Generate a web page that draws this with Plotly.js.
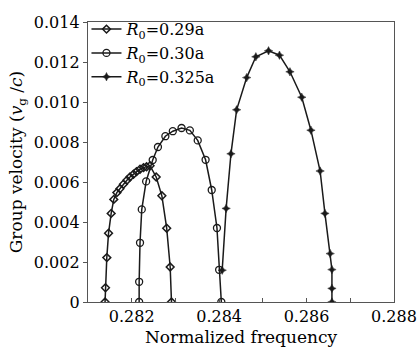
<!DOCTYPE html>
<html>
<head>
<meta charset="utf-8">
<script src="https://cdn.plot.ly/plotly-3.0.1.min.js"></script>
<style>html,body{margin:0;padding:0;background:#fff;}#chart{width:419px;height:347px;}</style>
</head>
<body>
<div id="chart"></div>
<script>
// Series names
const seriesNames = ['<i>R</i><sub>0</sub>=0.29a', '<i>R</i><sub>0</sub>=0.30a', '<i>R</i><sub>0</sub>=0.325a'];

// R0 = 0.29a
const x029 = [0.28139, 0.28140, 0.28143, 0.28147, 0.28153, 0.28159, 0.28166, 0.28173, 0.28181, 0.28189, 0.28196, 0.28204, 0.28211, 0.28219, 0.28227, 0.28234, 0.28242, 0.28256, 0.28269, 0.28280, 0.28288, 0.28291];
const y029 = [0, 0.00071, 0.00222, 0.00344, 0.00443, 0.00513, 0.00547, 0.00566, 0.00589, 0.00609, 0.00625, 0.00639, 0.00652, 0.00664, 0.00672, 0.00676, 0.00681, 0.00625, 0.00531, 0.00369, 0.00175, 0];

// R0 = 0.30a
const x030 = [0.28217, 0.28217, 0.28219, 0.28223, 0.28233, 0.28248, 0.28260, 0.28277, 0.28294, 0.28314, 0.28333, 0.28351, 0.28369, 0.28383, 0.28395, 0.28400, 0.28405];
const y030 = [0, 0.00101, 0.00296, 0.00463, 0.00603, 0.00710, 0.00775, 0.00829, 0.00854, 0.00870, 0.00858, 0.00808, 0.00711, 0.00560, 0.00370, 0.00161, 0];

// R0 = 0.325a
const x0325 = [0.28407, 0.28416, 0.28427, 0.28440, 0.28463, 0.28484, 0.28513, 0.28538, 0.28562, 0.28589, 0.28610, 0.28631, 0.28642, 0.28654, 0.28658, 0.28658, 0.28658];
const y0325 = [0.00159, 0.00468, 0.00741, 0.00961, 0.01122, 0.01226, 0.01256, 0.01234, 0.01151, 0.01024, 0.00859, 0.00655, 0.00443, 0.00242, 0.00162, 0.00068, 0];

// Tick values / labels
const xTickVals = [0.282, 0.284, 0.286, 0.288];
const xTickText = ['0.282', '0.284', '0.286', '0.288'];
const xMinorVals = [0.281, 0.283, 0.285, 0.287];
const yTickVals = [0, 0.002, 0.004, 0.006, 0.008, 0.010, 0.012, 0.014];
const yTickText = ['0', '0.002', '0.004', '0.006', '0.008', '0.010', '0.012', '0.014'];

const ink = '#1a1a1a';
const fontFam = '"DejaVu Serif", "Liberation Serif", serif';

const traces = [
  {x: x029, y: y029, name: seriesNames[0], mode: 'lines+markers',
   line: {color: ink, width: 1.5},
   marker: {symbol: 'diamond-open', size: 6, color: ink, line: {width: 1.5, color: ink}}},
  {x: x030, y: y030, name: seriesNames[1], mode: 'lines+markers',
   line: {color: ink, width: 1.5},
   marker: {symbol: 'circle-open', size: 7, color: ink, line: {width: 1.3, color: ink}}},
  {x: x0325, y: y0325, name: seriesNames[2], mode: 'lines+markers',
   line: {color: ink, width: 1.5},
   marker: {symbol: 'star-diamond', size: 6, color: ink, line: {width: 0.5, color: ink}}}
];

const layout = {
  width: 419, height: 347,
  margin: {l: 88, r: 25, t: 20, b: 45},
  paper_bgcolor: '#fff', plot_bgcolor: '#fff',
  font: {family: fontFam, size: 16, color: '#000'},
  showlegend: true,
  legend: {x: -0.005, y: 1.035, xanchor: 'left', yanchor: 'top', bgcolor: 'rgba(0,0,0,0)',
           font: {family: fontFam, size: 16, color: '#000'}, tracegroupgap: 0, itemwidth: 30},
  xaxis: {
    range: [0.281, 0.288], tickmode: 'array', tickvals: xTickVals, ticktext: xTickText,
    ticks: 'inside', ticklen: 4, tickwidth: 1, tickcolor: '#555',
    minor: {tickmode: 'array', tickvals: xMinorVals, ticks: 'inside', ticklen: 4, tickwidth: 1, tickcolor: '#555', showgrid: false},
    showline: true, linecolor: '#555', linewidth: 1.2, mirror: true,
    showgrid: false, zeroline: false,
    tickfont: {family: fontFam, size: 16, color: '#000'},
    title: {text: 'Normalized frequency', font: {family: fontFam, size: 17, color: '#000'}, standoff: 8}
  },
  yaxis: {
    range: [0, 0.014], tickmode: 'array', tickvals: yTickVals, ticktext: yTickText,
    ticks: 'outside', ticklen: 4, tickwidth: 1, tickcolor: '#555',
    showline: true, linecolor: '#555', linewidth: 1.2, mirror: true,
    showgrid: false, zeroline: false,
    tickfont: {family: fontFam, size: 16, color: '#000'},
    title: {text: 'Group velocity (<i>v</i><sub>g</sub> /<i>c</i>)', font: {family: fontFam, size: 17, color: '#000'}, standoff: 6}
  }
};

Plotly.newPlot('chart', traces, layout, {displayModeBar: false, staticPlot: true});
</script>
</body>
</html>
